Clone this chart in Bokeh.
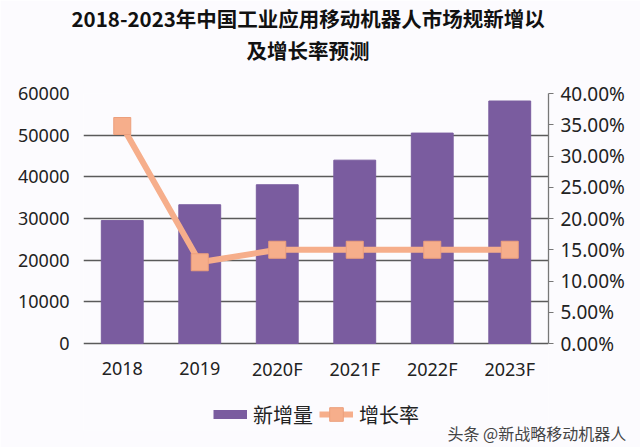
from bokeh.plotting import figure
from bokeh.models import (ColumnDataSource, Range1d, LinearAxis, NumeralTickFormatter,
                          Legend, LegendItem, Title, FixedTicker)
from bokeh.core.properties import value
from bokeh.embed import file_html
from bokeh.resources import INLINE

# ---- data ----
years = ["2018", "2019", "2020F", "2021F", "2022F", "2023F"]
new_units = [29500, 33300, 38100, 44000, 50500, 58200]
growth = [0.348, 0.130, 0.150, 0.150, 0.150, 0.150]
left_ticks = [0, 10000, 20000, 30000, 40000, 50000, 60000]
right_ticks = [0.0, 0.05, 0.10, 0.15, 0.20, 0.25, 0.30, 0.35, 0.40]
title_lines = ["2018-2023年中国工业应用移动机器人市场规新增以", "及增长率预测"]
series_names = ["新增量", "增长率"]
watermark = "头条 @新战略移动机器人"

BAR = "#7a5c9f"
LINE = "#f6ae8b"
BG = "#fcfbfe"
GRID = "#5a5a5a"
CJK = "Noto Sans CJK SC"
NUM = "Noto Sans"

W, H = 640, 447
FL, FR, FT, FB = 83, 92, 93, 17   # frame borders (frame reaches down to the legend row)
ZERO_PX = 343                     # pixel row of the value axis zero
Y_MAX, P_MAX = 60000, 0.40
frame_bottom = H - FB
below_frac = (frame_bottom - ZERO_PX) / (ZERO_PX - FT)

src = ColumnDataSource(dict(year=years, units=new_units, growth=growth))

p = figure(width=W, height=H, x_range=years,
           y_range=Range1d(-Y_MAX * below_frac, Y_MAX), title=None,
           output_backend="svg", toolbar_location=None,
           min_border_left=FL, min_border_right=FR, min_border_top=FT, min_border_bottom=FB)
p.background_fill_color = BG
p.border_fill_color = BG
p.outline_line_color = None
p.extra_y_ranges = {"pct": Range1d(-P_MAX * below_frac, P_MAX)}

# grid
p.xgrid.grid_line_color = None
p.ygrid.ticker = FixedTicker(ticks=left_ticks)
p.ygrid.grid_line_color = GRID
p.ygrid.grid_line_width = 1.3

# left axis
ya = p.yaxis[0]
ya.ticker = FixedTicker(ticks=left_ticks)
ya.axis_line_color = None
ya.major_tick_line_color = None
ya.major_tick_out = 0
ya.minor_tick_line_color = None
ya.major_label_standoff = 14
ya.major_label_text_font = NUM
ya.major_label_text_font_size = "18px"
ya.major_label_text_color = "#222222"

# category axis labels drawn under the zero line
p.xaxis.visible = False
p.text(x="year", y=0, text="year", source=src, y_offset=25,
       text_align="center", text_baseline="middle",
       text_font=value(NUM), text_font_size="18px", text_color="#222222")

# right axis
ra = LinearAxis(y_range_name="pct", ticker=FixedTicker(ticks=right_ticks),
                formatter=NumeralTickFormatter(format="0.00%"), bounds=(0, P_MAX))
ra.axis_line_color = "#777777"
ra.axis_line_width = 1.3
ra.major_tick_line_color = "#777777"
ra.major_tick_out = 5
ra.major_tick_in = 0
ra.minor_tick_line_color = None
ra.major_label_standoff = 7
ra.major_label_text_font = NUM
ra.major_label_text_font_size = "19px"
ra.major_label_text_color = "#222222"
p.add_layout(ra, "right")

# bars
bars = p.vbar(x="year", top="units", width=0.54, source=src,
              fill_color=BAR, line_color=BAR)

# growth line
ln = p.line(x="year", y="growth", source=src, y_range_name="pct",
            line_color=LINE, line_width=6, line_join="round")
mk = p.scatter(x="year", y="growth", source=src, y_range_name="pct",
               marker="square", size=17, fill_color=LINE, line_color="#ec9f7c", line_width=1)

# key swatch for the bars: a thick bar-coloured stroke (hidden in the plot itself)
bar_key = p.line(x="year", y="units", source=src, line_color=BAR, line_width=9,
                 line_cap="butt", visible=False)

# titles (added nearest-first): spacer, second line, first line
p.add_layout(Title(text=" ", standoff=3, text_font=CJK, text_font_size="16px",
                   text_font_style="bold"), "above")
p.add_layout(Title(text=title_lines[1], align="left", offset=163, standoff=0,
                   text_font=CJK, text_font_size="20.5px", text_font_style="bold",
                   text_color="#111111"), "above")
p.add_layout(Title(text=title_lines[0], align="left", offset=-12, standoff=0,
                   text_font=CJK, text_font_size="20.5px", text_font_style="bold",
                   text_color="#111111"), "above")

# legend in the bottom strip of the frame
leg = Legend(items=[LegendItem(label=series_names[0], renderers=[bar_key]),
                    LegendItem(label=series_names[1], renderers=[ln, mk])],
             orientation="horizontal", location=(130, -3), click_policy="none",
             label_text_font=CJK, label_text_font_size="20px", label_text_color="#222222",
             glyph_width=34, glyph_height=38, spacing=6, padding=0, margin=0,
             label_standoff=6, border_line_color=None, background_fill_alpha=0,
             inactive_fill_alpha=0)
p.add_layout(leg, "center")

# watermark
p.add_layout(Title(text=watermark, align="left", offset=364, standoff=-29,
                   text_font=CJK, text_font_size="16px", text_font_style="normal",
                   text_color="#444444"), "below")

open("out.html", "w").write(file_html(p, INLINE))
